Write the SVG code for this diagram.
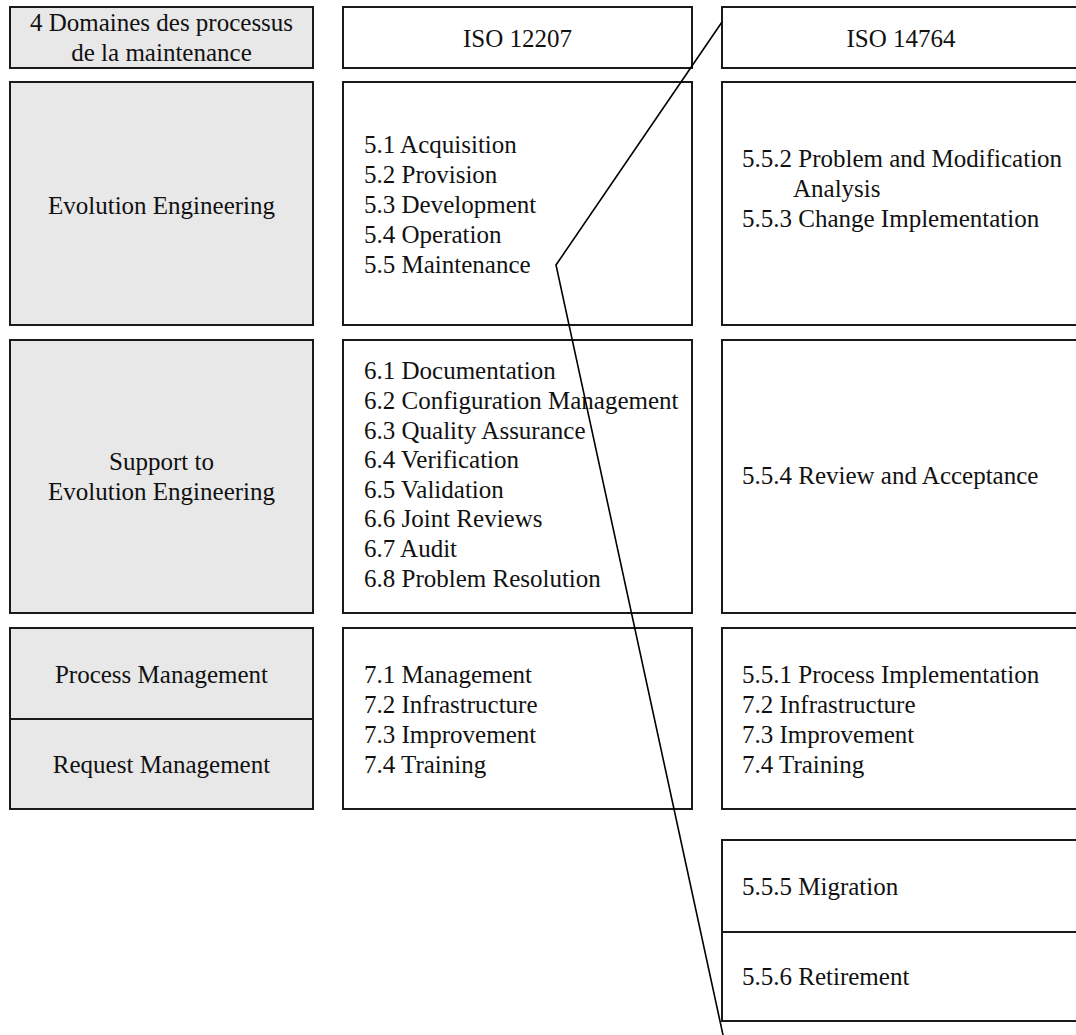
<svg xmlns="http://www.w3.org/2000/svg" width="1076" height="1035" viewBox="0 0 1076 1035">
  <style>
    .cat { fill: #e8e8e8; stroke: #1a1a1a; stroke-width: 2; }
    .box { fill: #ffffff; stroke: #1a1a1a; stroke-width: 2; }
    .sep { stroke: #1a1a1a; stroke-width: 2; fill: none; }
    text { font-family: "Liberation Serif", "Times New Roman", serif; font-size: 25px; fill: #111111; }
    .c { text-anchor: middle; }
    .link { fill: none; stroke: #000000; stroke-width: 1.6; stroke-linejoin: miter; }
  </style>

  <rect width="1076" height="1035" fill="#ffffff"/>

  <!-- header row -->
  <g id="hdr-domains">
    <rect class="cat" x="10" y="7" width="303" height="61"/>
    <text class="c" x="161.5" y="31">4 Domaines des processus</text>
    <text class="c" x="161.5" y="61">de la maintenance</text>
  </g>
  <g id="hdr-iso12207">
    <rect class="box" x="343" y="7" width="349" height="61"/>
    <text class="c" x="517.5" y="47">ISO 12207</text>
  </g>
  <g id="hdr-iso14764">
    <rect class="box" x="722" y="7" width="358" height="61"/>
    <text class="c" x="901" y="47">ISO 14764</text>
  </g>

  <!-- Evolution Engineering row -->
  <g id="dom-evolution">
    <rect class="cat" x="10" y="82" width="303" height="243"/>
    <text class="c" x="161.5" y="214">Evolution Engineering</text>
  </g>
  <g id="iso12207-evolution">
    <rect class="box" x="343" y="82" width="349" height="243"/>
    <text x="364" y="153">5.1 Acquisition</text>
    <text x="364" y="183">5.2 Provision</text>
    <text x="364" y="213">5.3 Development</text>
    <text x="364" y="243">5.4 Operation</text>
    <text x="364" y="273">5.5 Maintenance</text>
  </g>
  <g id="iso14764-evolution">
    <rect class="box" x="722" y="82" width="358" height="243"/>
    <text x="742" y="167">5.5.2 Problem and Modification</text>
    <text x="793" y="197">Analysis</text>
    <text x="742" y="227">5.5.3 Change Implementation</text>
  </g>

  <!-- Support row -->
  <g id="dom-support">
    <rect class="cat" x="10" y="340" width="303" height="273"/>
    <text class="c" x="161.5" y="470">Support to</text>
    <text class="c" x="161.5" y="500">Evolution Engineering</text>
  </g>
  <g id="iso12207-support">
    <rect class="box" x="343" y="340" width="349" height="273"/>
    <text x="364" y="379">6.1 Documentation</text>
    <text x="364" y="409">6.2 Configuration Management</text>
    <text x="364" y="439">6.3 Quality Assurance</text>
    <text x="364" y="468">6.4 Verification</text>
    <text x="364" y="498">6.5 Validation</text>
    <text x="364" y="527">6.6 Joint Reviews</text>
    <text x="364" y="557">6.7 Audit</text>
    <text x="364" y="587">6.8 Problem Resolution</text>
  </g>
  <g id="iso14764-support">
    <rect class="box" x="722" y="340" width="358" height="273"/>
    <text x="742" y="484">5.5.4 Review and Acceptance</text>
  </g>

  <!-- Process / Request management row -->
  <g id="dom-management">
    <rect class="cat" x="10" y="628" width="303" height="181"/>
    <line class="sep" x1="10" y1="719" x2="313" y2="719"/>
    <text class="c" x="161.5" y="683">Process Management</text>
    <text class="c" x="161.5" y="773">Request Management</text>
  </g>
  <g id="iso12207-management">
    <rect class="box" x="343" y="628" width="349" height="181"/>
    <text x="364" y="683">7.1 Management</text>
    <text x="364" y="713">7.2 Infrastructure</text>
    <text x="364" y="743">7.3 Improvement</text>
    <text x="364" y="773">7.4 Training</text>
  </g>
  <g id="iso14764-management">
    <rect class="box" x="722" y="628" width="358" height="181"/>
    <text x="742" y="683">5.5.1 Process Implementation</text>
    <text x="742" y="713">7.2 Infrastructure</text>
    <text x="742" y="743">7.3 Improvement</text>
    <text x="742" y="773">7.4 Training</text>
  </g>

  <!-- ISO 14764-only activities -->
  <g id="iso14764-migration">
    <rect class="box" x="722" y="840" width="358" height="92"/>
    <text x="742" y="895">5.5.5 Migration</text>
  </g>
  <g id="iso14764-retirement">
    <rect class="box" x="722" y="932" width="358" height="89"/>
    <text x="742" y="985">5.5.6 Retirement</text>
  </g>

  <!-- bracket tying 5.5 Maintenance to the ISO 14764 column -->
  <g id="connectors">
    <polyline class="link" points="722,22 556,265 723,1035"/>
  </g>
</svg>
